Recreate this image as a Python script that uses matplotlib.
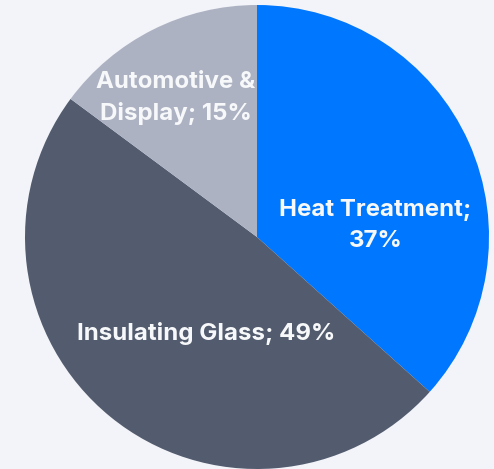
import matplotlib.pyplot as plt

# segment shares (%)
labels = ['Heat Treatment', 'Insulating Glass', 'Automotive &\nDisplay']
shares = [37, 49, 15]
colors = ['#0077FF', '#525C6E', '#ADB2C3']

# label text, placed by hand inside each wedge
label_text = ['Heat Treatment;\n37%', 'Insulating Glass; 49%', 'Automotive &\nDisplay; 15%']
label_pos = [(0.51, 0.05), (-0.22, -0.415), (-0.35, 0.60)]

bg = '#F3F4F9'
fig = plt.figure(figsize=(4.94, 4.69), dpi=100, facecolor=bg)
ax = fig.add_axes([0, 0, 1, 1])
ax.set_facecolor(bg)

ax.pie(shares, colors=colors, startangle=90, counterclock=False,
       radius=1, wedgeprops=dict(linewidth=0))

for (x, y), txt in zip(label_pos, label_text):
    ax.text(x, y, txt, ha='center', va='center', color='#F7F8FA',
            fontsize=17.3, fontweight='bold', family=['Inter', 'DejaVu Sans'],
            linespacing=1.5)

# figure is 494x469 px; pie radius ~232 px, centre at (257, 237)
r_px = 232.0
cx, cy = 257.0, 469 - 237.0
ax.set_xlim(-cx / r_px, (494 - cx) / r_px)
ax.set_ylim(-cy / r_px, (469 - cy) / r_px)
ax.set_aspect('auto')
ax.axis('off')

fig.savefig('out.png', dpi=100, facecolor=bg)
